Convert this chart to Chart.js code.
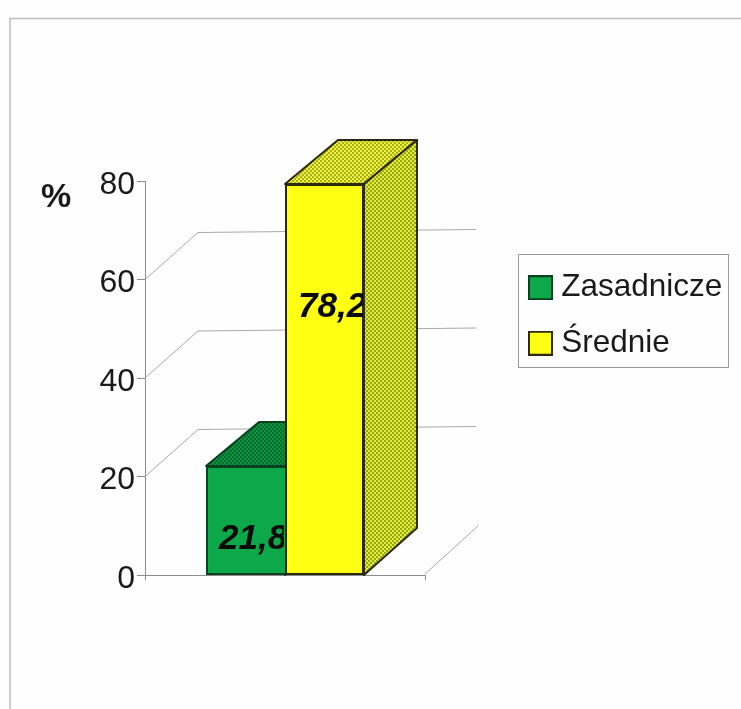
<!DOCTYPE html>
<html><head><meta charset="utf-8">
<script src="https://cdn.jsdelivr.net/npm/chart.js@4"></script>
<style>html,body{margin:0;padding:0;background:#fff}canvas{display:block}</style>
</head><body>
<canvas id="c" width="741" height="709"></canvas>
<script>
const categories = [''];
const seriesNames = ['Zasadnicze', 'Średnie'];
const seriesValues = [[21.8], [78.2]];
const yTicks = [0, 20, 40, 60, 80];
const unitLabel = '%';

const FONT = "'Liberation Sans', Arial, sans-serif";
const faceColors = [
  {front:'#0ca84a', border:'#0a3f1f', skip:'right', topBase:'#0c943f', topDot:'#0a6a30', sideBase:'#0c943f', sideDot:'#0a6a30'},
  {front:'#ffff14', border:'#2c2a0c', skip:false, topBase:'#eef23a', topDot:'#a8b020', sideBase:'#e6ee30', sideDot:'#93a820'}
];
const labelPlace = [0.325, 0.685];

function dither(base, dot){
  const p = document.createElement('canvas'); p.width = 4; p.height = 4;
  const g = p.getContext('2d');
  g.fillStyle = base; g.fillRect(0,0,4,4);
  g.fillStyle = dot;
  g.fillRect(0,0,2,2); g.fillRect(2,2,2,2);
  return p;
}
function marker(fill, border){
  const p = document.createElement('canvas'); p.width = 25; p.height = 25;
  const g = p.getContext('2d');
  g.fillStyle = fill; g.fillRect(0,0,25,25);
  g.strokeStyle = border; g.lineWidth = 2; g.strokeRect(1,1,23,23);
  return p;
}
function poly(ctx, pts, fill, stroke){
  ctx.beginPath();
  pts.forEach((q,i)=> i ? ctx.lineTo(q[0],q[1]) : ctx.moveTo(q[0],q[1]));
  ctx.closePath();
  ctx.fillStyle = fill; ctx.fill();
  ctx.strokeStyle = stroke; ctx.lineWidth = 2; ctx.lineJoin = 'round'; ctx.stroke();
}
const DX = 53, DY_TOP = -44, DY_BOTTOM = -47;

const scene = {
  id:'scene',
  afterLayout(chart){
    const l = chart.legend;
    const w = l.width, h = l.height;
    l.left = 511.5; l.top = 248; l.right = l.left + w; l.bottom = l.top + h;
  },
  beforeDraw(chart){
    const c = chart.ctx;
    c.save();
    c.fillStyle = '#fefefe'; c.fillRect(0,0,741,709);
    c.strokeStyle = '#bcbcc2'; c.lineWidth = 1.5;
    c.beginPath(); c.moveTo(741,18.5); c.lineTo(10,18.5); c.lineTo(10,709); c.stroke();
    c.strokeStyle = '#9a9a9a'; c.lineWidth = 1;
    c.strokeRect(518.5,254.5,210,113);
    c.fillStyle = '#1a1a1a'; c.font = "bold 34px "+FONT;
    c.textAlign = 'left'; c.textBaseline = 'middle';
    c.fillText(unitLabel, 41, 198);
    c.restore();
  },
  beforeDatasetsDraw(chart){
    const c = chart.ctx, a = chart.chartArea, y = chart.scales.y;
    c.save();
    c.strokeStyle = '#a8a8a8'; c.lineWidth = 1;
    c.beginPath();
    yTicks.forEach(v=>{
      const py = y.getPixelForValue(v);
      if (v === 0) { c.moveTo(a.right, py-1); c.lineTo(a.right+DX, py-49); }
      else if (v < 80) {
        c.moveTo(a.left, py); c.lineTo(a.left+DX, py-47); c.lineTo(a.right+51, py-50);
      }
    });
    c.stroke();
    chart.data.datasets.forEach((d,i)=>{
      const b = chart.getDatasetMeta(i).data[0], f = faceColors[i];
      const L = b.x - b.width/2, R = b.x + b.width/2, T = b.y, B = b.base;
      const top = c.createPattern(dither(f.topBase,f.topDot),'repeat');
      const side = c.createPattern(dither(f.sideBase,f.sideDot),'repeat');
      poly(c, [[L,T],[L+DX,T+DY_TOP],[R+DX,T+DY_TOP],[R,T]], top, f.border);
      poly(c, [[R,T],[R+DX,T+DY_TOP],[R+DX,B+DY_BOTTOM],[R,B]], side, f.border);
    });
    c.restore();
  },
  afterDatasetsDraw(chart){
    const c = chart.ctx;
    chart.data.datasets.forEach((d,i)=>{
      const b = chart.getDatasetMeta(i).data[0];
      const L = b.x - b.width/2;
      c.save();
      c.beginPath(); c.rect(L, b.y, b.width-1, b.base-b.y); c.clip();
      c.fillStyle = '#0a0a0a'; c.font = "italic bold 35px "+FONT;
      c.textAlign = 'left'; c.textBaseline = 'middle';
      const py = b.base - labelPlace[i]*(b.base-b.y);
      c.fillText(d.data[0].toFixed(1).replace('.',','), L+13, py);
      c.restore();
    });
  }
};

new Chart(document.getElementById('c'), {
  type:'bar',
  data:{
    labels: categories,
    datasets: seriesNames.map((n,i)=>({
      label:n, data:seriesValues[i], yAxisID:'yBars',
      backgroundColor:faceColors[i].front, borderColor:faceColors[i].border, borderWidth:2,
      borderSkipped:faceColors[i].skip,
      barPercentage:1, categoryPercentage:0.564
    }))
  },
  options:{
    responsive:false, animation:false, devicePixelRatio:1,
    layout:{padding:{left:0,top:181,right:316,bottom:134}},
    plugins:{
      tooltip:{enabled:false},
      legend:{
        position:'chartArea', align:'start',
        labels:{
          usePointStyle:true, pointStyleWidth:10, boxHeight:24, padding:24,
          color:'#1a1a1a', font:{family:FONT,size:31.5},
          generateLabels(chart){
            return Chart.defaults.plugins.legend.labels.generateLabels(chart).map((it,i)=>{
              it.pointStyle = marker(faceColors[i].front, faceColors[i].border);
              return it;
            });
          }
        }
      }
    },
    scales:{
      x:{
        grid:{drawOnChartArea:false,tickLength:5,color:'#8c8c8c',offset:true},
        border:{color:'#8c8c8c'},
        ticks:{display:false},
        afterFit(s){s.height=0;}
      },
      y:{
        position:'left', min:0, max:80,
        afterBuildTicks(s){ s.ticks = yTicks.map(v=>({value:v})); },
        ticks:{color:'#1a1a1a',font:{family:FONT,size:32},padding:2,labelOffset:4},
        grid:{drawOnChartArea:false,tickLength:8,color:'#8c8c8c'},
        border:{color:'#8c8c8c'},
        afterFit(s){s.width=145;}
      },
      yBars:{display:false,position:'left',min:0,max:78.8}
    }
  },
  plugins:[scene]
});
</script>
</body></html>
